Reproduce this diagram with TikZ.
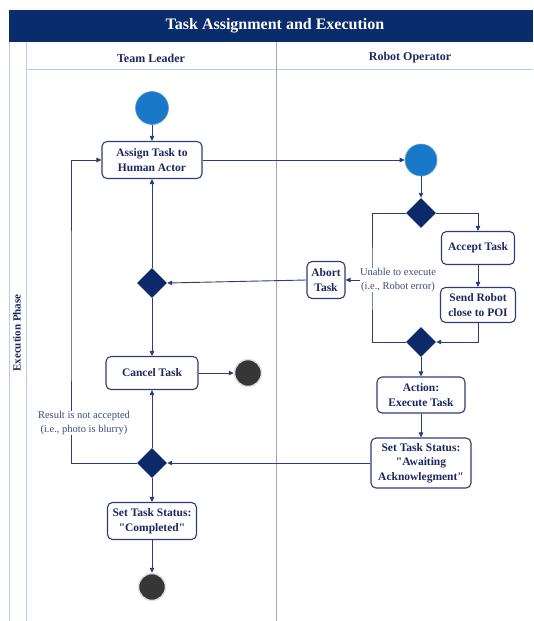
\documentclass[tikz,border=0pt]{standalone}
\usepackage{fontspec}
\setmainfont{Liberation Serif}[Ligatures=TeXOff]
\usetikzlibrary{arrows.meta,shapes.geometric}
\definecolor{navyt}{HTML}{1C2760}
\definecolor{navyb}{HTML}{2F3B78}
\definecolor{navyd}{HTML}{0C2A6A}
\definecolor{hdr}{HTML}{0B2C6C}
\definecolor{startc}{HTML}{1A78C8}
\definecolor{endc}{HTML}{363636}
\definecolor{frm}{HTML}{B4CFE8}
\definecolor{divc}{HTML}{A0A6B6}
\definecolor{lblc}{HTML}{3D4A7A}
\tikzset{
  act/.style={draw=navyb, line width=1.1pt, rounded corners=5pt, fill=white,
    font=\fontsize{11.5}{14.5}\selectfont\bfseries, text=navyt, align=center, inner sep=0pt},
  dec/.style={diamond, fill=navyd, minimum width=30pt, minimum height=30pt, inner sep=0pt},
  initnode/.style={circle, fill=startc, draw=startc!70!white, line width=0.6pt, minimum size=33pt, inner sep=0pt},
  finalnode/.style={circle, fill=endc, draw=black!12, line width=1.5pt, minimum size=27pt, inner sep=0pt},
  arr/.style={draw=navyb, line width=0.9pt, -{Triangle[length=5pt,width=4.5pt]}},
  ln/.style={draw=navyb, line width=0.9pt},
  guard/.style={font=\fontsize{10.5}{13.5}\selectfont, text=lblc, align=center, fill=white, inner sep=0.5pt},
  lanehdr/.style={font=\fontsize{12}{14}\selectfont\bfseries, text=navyt}
}
\begin{document}
\begin{tikzpicture}[x=1pt,y=-1pt]
\useasboundingbox (0,0) rectangle (533,621);
% frame
\fill[hdr] (9,10) rectangle (533,42);
\node[font=\fontsize{16}{18}\selectfont\bfseries, text=white] (title) at (275,26) {Task Assignment and Execution};
\draw[frm, line width=1pt] (9,42) -- (9,621);
\draw[frm, line width=1pt] (26,42) -- (26,621);
\draw[frm, line width=1pt] (26,69) -- (533,69);
\draw[divc, line width=0.8pt] (276,42) -- (276,621);
\node[lanehdr] (tl) at (151,58) {Team Leader};
\node[lanehdr] (ro) at (410,58) {Robot Operator};
\node[font=\fontsize{11}{13}\selectfont\bfseries, text=navyt, rotate=90] (phase) at (17,333) {Execution Phase};

% left lane nodes
\node[initnode] (s0) at (152,108) {};
\node[act, minimum width=100pt, minimum height=37pt] (assign) at (152,160) {Assign Task to\\Human Actor};
\node[dec] (dl1) at (152,283) {};
\node[act, minimum width=92pt, minimum height=33pt] (cancel) at (152,373) {Cancel Task};
\node[finalnode] (e1) at (248,373) {};
\node[dec] (dl2) at (152,463) {};
\node[act, minimum width=89pt, minimum height=37pt] (done) at (152,521) {Set Task Status:\\"Completed"};
\node[finalnode] (e2) at (152,587) {};

% right lane nodes
\node[initnode, minimum size=32pt] (s1) at (421,160) {};
\node[dec] (d1) at (421,213) {};
\node[act, minimum width=73pt, minimum height=33pt] (accept) at (478,248) {Accept Task};
\node[act, minimum width=75pt, minimum height=35pt] (send) at (478,305) {Send Robot\\close to POI};
\node[act, minimum width=38pt, minimum height=37pt] (abort) at (326,280) {Abort\\Task};
\node[dec] (d2) at (421,342) {};
\node[act, minimum width=88pt, minimum height=36pt] (exec) at (421,395) {Action:\\Execute Task};
\node[act, minimum width=100pt, minimum height=50pt] (await) at (421,463) {Set Task Status:\\"Awaiting\\Acknowlegment"};

\coordinate (cl) at (372,280);
\coordinate (cr) at (71,300);

% connectors
\draw[arr] (s0) -- (assign);
\draw[arr] (assign.east) -- (s1.west);
\draw[arr] (s1) -- (d1);
\draw[arr] (d1.east) -| (accept.north);
\draw[arr] (accept) -- (send);
\draw[arr] (send.south) |- (d2.east);
\draw[ln] (d1.west) -| (cl) |- (d2.west);
\draw[arr] (cl) -- (abort.east);
\draw[arr] (abort.west) -- (dl1.east);
\draw[arr] (dl1.north) -- (assign.south);
\draw[arr] (dl1.south) -- (cancel.north);
\draw[arr] (cancel.east) -- (e1.west);
\draw[arr] (d2.south) -- (exec.north);
\draw[arr] (exec.south) -- (await.north);
\draw[arr] (await.west) -- (dl2.east);
\draw[arr] (dl2.north) -- (cancel.south);
\draw[arr] (dl2.west) -| (cr) |- (assign.west);
\draw[arr] (dl2.south) -- (done.north);
\draw[arr] (done.south) -- (e2.north);

% guards
\node[guard] (g1) at (398,280) {Unable to execute\\(i.e., Robot error)};
\node[guard] (g2) at (84,423) {Result is not accepted\\(i.e., photo is blurry)};
\end{tikzpicture}
\end{document}
